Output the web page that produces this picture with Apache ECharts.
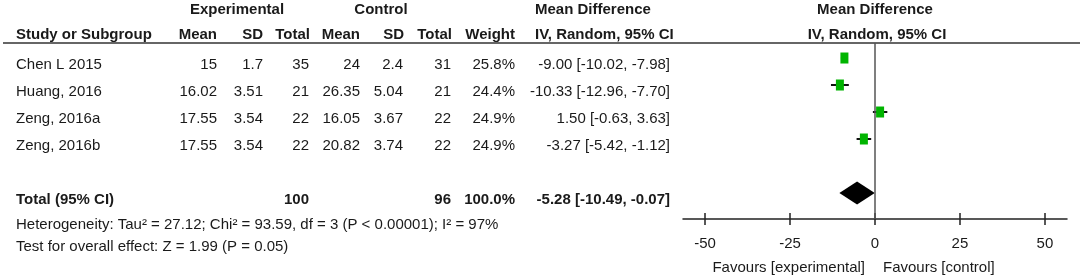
<!DOCTYPE html>
<html>
<head>
<meta charset="utf-8">
<script src="https://cdn.jsdelivr.net/npm/echarts@6/dist/echarts.min.js"></script>
<style>
html,body{margin:0;padding:0;background:#fff;}
#chart{width:1084px;height:278px;}
</style>
</head>
<body>
<div id="chart"></div>
<script>
// ---------- data ----------
const studies = ['Chen L 2015', 'Huang, 2016', 'Zeng, 2016a', 'Zeng, 2016b'];
const expMean = [15, 16.02, 17.55, 17.55];
const expSD = [1.7, 3.51, 3.54, 3.54];
const expN = [35, 21, 22, 22];
const ctlMean = [24, 26.35, 16.05, 20.82];
const ctlSD = [2.4, 5.04, 3.67, 3.74];
const ctlN = [31, 21, 22, 22];
const weights = [25.8, 24.4, 24.9, 24.9];
const meanDiff = [-9.00, -10.33, 1.50, -3.27];
const ciLow = [-10.02, -12.96, -0.63, -5.42];
const ciHigh = [-7.98, -7.70, 3.63, -1.12];
const totalLabel = 'Total (95% CI)';
const totalExpN = 100;
const totalCtlN = 96;
const totalWeight = 100.0;
const totalMD = -5.28;
const totalLow = -10.49;
const totalHigh = -0.07;
const xTicks = [-50, -25, 0, 25, 50];
const groupHeaders = ['Experimental', 'Control', 'Mean Difference', 'Mean Difference'];
const colHeaders = ['Study or Subgroup', 'Mean', 'SD', 'Total', 'Mean', 'SD', 'Total', 'Weight', 'IV, Random, 95% CI', 'IV, Random, 95% CI'];
const heterogeneityText = 'Heterogeneity: Tau\u00b2 = 27.12; Chi\u00b2 = 93.59, df = 3 (P < 0.00001); I\u00b2 = 97%';
const overallText = 'Test for overall effect: Z = 1.99 (P = 0.05)';
const favourLeft = 'Favours [experimental]';
const favourRight = 'Favours [control]';

// ---------- layout ----------
const FONT = '15px "Liberation Sans", Arial, sans-serif';
const BFONT = 'bold 15px "Liberation Sans", Arial, sans-serif';
const TXT = '#1a1a1a';
const GREEN = '#00b400';
const totalRow = studies.length + 1;
const colLayout = [
  {x: 16, align: 'left'}, {x: 217, align: 'right'}, {x: 263, align: 'right'}, {x: 309, align: 'right'},
  {x: 360, align: 'right'}, {x: 403, align: 'right'}, {x: 451, align: 'right'}, {x: 515, align: 'right'},
  {x: 670, align: 'right'}
];
const groupLayout = [{x: 237, align: 'center'}, {x: 381, align: 'center'}, {x: 535, align: 'left'}, {x: 875, align: 'center'}];
const headLayout = [{x: 16, align: 'left'}, {x: 217, align: 'right'}, {x: 263, align: 'right'}, {x: 310, align: 'right'},
  {x: 360, align: 'right'}, {x: 404, align: 'right'}, {x: 452, align: 'right'}, {x: 515, align: 'right'},
  {x: 535, align: 'left'}, {x: 877, align: 'center'}];

// ---------- table cells ----------
const fmt2 = v => v.toFixed(2);
const ciText = (m, l, h) => fmt2(m) + ' [' + fmt2(l) + ', ' + fmt2(h) + ']';
const cells = [];
studies.forEach((s, i) => {
  const vals = [s, String(expMean[i]), String(expSD[i]), String(expN[i]), String(ctlMean[i]), String(ctlSD[i]),
    String(ctlN[i]), weights[i].toFixed(1) + '%', ciText(meanDiff[i], ciLow[i], ciHigh[i])];
  vals.forEach((t, c) => cells.push({col: c, row: i, text: t, bold: false}));
});
[[0, totalLabel], [3, String(totalExpN)], [6, String(totalCtlN)], [7, totalWeight.toFixed(1) + '%'],
 [8, ciText(totalMD, totalLow, totalHigh)]].forEach(([c, t]) => cells.push({col: c, row: totalRow, text: t, bold: true}));

function txt(text, x, y, align, bold) {
  return {type: 'text', x: x, y: y, silent: true,
    style: {text: text, font: bold ? BFONT : FONT, fill: TXT, align: align, textAlign: align,
      verticalAlign: 'middle', textVerticalAlign: 'middle'}};
}

const graphics = [];
groupHeaders.forEach((t, i) => graphics.push(txt(t, groupLayout[i].x, 10, groupLayout[i].align, true)));
colHeaders.forEach((t, i) => graphics.push(txt(t, headLayout[i].x, 35, headLayout[i].align, true)));
graphics.push({type: 'line', silent: true, shape: {x1: 3, y1: 43, x2: 1080, y2: 43}, style: {stroke: '#333', lineWidth: 1.5}});
graphics.push(txt(heterogeneityText, 16, 225, 'left', false));
graphics.push(txt(overallText, 16, 247, 'left', false));
graphics.push(txt(favourLeft, 865, 268, 'right', false));
graphics.push(txt(favourRight, 883, 268, 'left', false));

const yMin = -0.556, yMax = 5.963;

const chart = echarts.init(document.getElementById('chart'), null, {renderer: 'canvas'});
chart.setOption({
  animation: false,
  backgroundColor: '#fff',
  grid: [
    {left: 683, top: 43, width: 384, height: 176},
    {left: 0, top: 43, width: 680, height: 176}
  ],
  xAxis: [
    {type: 'value', gridIndex: 0, min: -56.5, max: 56.5, position: 'bottom',
      axisLine: {show: true, onZero: false, lineStyle: {color: '#222', width: 1.5}},
      axisTick: {show: true, customValues: xTicks, length: 6, lineStyle: {color: '#222', width: 1.5}},
      axisLabel: {show: true, customValues: xTicks, margin: 17, fontSize: 15, color: TXT, fontFamily: '"Liberation Sans", Arial, sans-serif'},
      splitLine: {show: false}},
    {type: 'value', gridIndex: 0, min: -56.5, max: 56.5, position: 'bottom',
      axisLine: {show: false, onZero: false},
      axisTick: {show: true, inside: true, customValues: xTicks, length: 6, lineStyle: {color: '#222', width: 1.5}},
      axisLabel: {show: false}, splitLine: {show: false}},
    {type: 'value', gridIndex: 1, min: 0, max: 1, show: false}
  ],
  yAxis: [
    {type: 'value', gridIndex: 0, inverse: true, min: yMin, max: yMax, show: false},
    {type: 'value', gridIndex: 1, inverse: true, min: yMin, max: yMax, show: false}
  ],
  graphic: graphics,
  series: [
    {
      type: 'custom', xAxisIndex: 0, yAxisIndex: 0, clip: false,
      data: meanDiff.map((m, i) => [m, ciLow[i], ciHigh[i], i, weights[i]]),
      renderItem: function (params, api) {
        const r = api.value(3);
        const c = api.coord([api.value(0), r]);
        const l = api.coord([api.value(1), r]);
        const h = api.coord([api.value(2), r]);
        const w = 8, hh = 11;
        return {type: 'group', children: [
          {type: 'line', shape: {x1: l[0], y1: l[1], x2: h[0], y2: h[1]}, style: {stroke: '#111', lineWidth: 2}},
          {type: 'rect', shape: {x: c[0] - w / 2, y: c[1] - hh / 2, width: w, height: hh}, style: {fill: GREEN}}
        ]};
      },
      markLine: {silent: true, symbol: 'none', label: {show: false},
        lineStyle: {color: '#555', width: 1.5, type: 'solid'}, data: [{xAxis: 0}]}
    },
    {
      type: 'custom', xAxisIndex: 0, yAxisIndex: 0, clip: false,
      data: [[totalMD, totalLow, totalHigh, totalRow]],
      renderItem: function (params, api) {
        const r = api.value(3);
        const c = api.coord([api.value(0), r]);
        const l = api.coord([api.value(1), r]);
        const h = api.coord([api.value(2), r]);
        const hh = 11.5;
        return {type: 'polygon', shape: {points: [[l[0], l[1]], [c[0], c[1] - hh], [h[0], h[1]], [c[0], c[1] + hh]]},
          style: {fill: '#000'}};
      }
    },
    {
      type: 'custom', xAxisIndex: 2, yAxisIndex: 1, clip: false,
      data: cells.map(c => [0, c.row]),
      renderItem: function (params, api) {
        const cell = cells[params.dataIndex];
        const p = api.coord([0, api.value(1)]);
        const L = colLayout[cell.col];
        return txt(cell.text, L.x, p[1] + 7, L.align, cell.bold);
      }
    }
  ]
});
</script>
</body>
</html>
